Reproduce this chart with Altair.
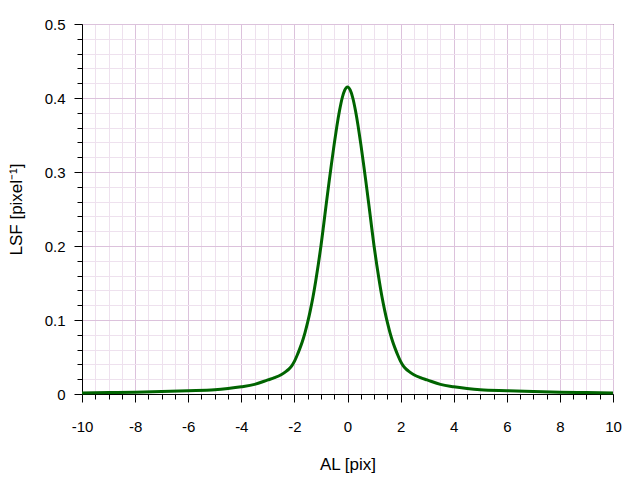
import altair as alt
import pandas as pd

# Line spread function
al_pix = [-10, -9, -8, -7, -6, -5, -4.5, -4, -3.5, -3, -2.75, -2.5, -2.3, -2.2, -2.1,
          -2.0, -1.9, -1.8, -1.7, -1.6, -1.5, -1.4, -1.3, -1.2, -1.1, -1.0, -0.9, -0.8,
          -0.7, -0.6, -0.5, -0.4, -0.3, -0.2, -0.1, 0.0,
          0.1, 0.2, 0.3, 0.4, 0.5, 0.6, 0.7, 0.8, 0.9, 1.0, 1.1, 1.2, 1.3, 1.4, 1.5,
          1.6, 1.7, 1.8, 1.9, 2.0, 2.1, 2.2, 2.3, 2.5, 2.75, 3, 3.5, 4, 4.5, 5, 6, 7, 8, 9, 10]
lsf = [0.0015, 0.002, 0.0025, 0.0035, 0.0045, 0.0058, 0.0075, 0.0098, 0.013, 0.019, 0.022,
       0.026, 0.031, 0.034, 0.038, 0.044, 0.052, 0.061, 0.071, 0.083, 0.097, 0.113, 0.131,
       0.152, 0.175, 0.200, 0.228, 0.257, 0.285, 0.312, 0.338, 0.362, 0.383, 0.400, 0.411,
       0.415,
       0.411, 0.400, 0.383, 0.362, 0.338, 0.312, 0.285, 0.257, 0.228, 0.200, 0.175, 0.152,
       0.131, 0.113, 0.097, 0.083, 0.071, 0.061, 0.052, 0.044, 0.038, 0.034, 0.031, 0.026,
       0.022, 0.019, 0.013, 0.0098, 0.0075, 0.0058, 0.0045, 0.0035, 0.0025, 0.002, 0.0015]

x_ticks = [-10 + 0.5 * i for i in range(41)]
y_ticks = [round(0.02 * i, 2) for i in range(26)]

df = pd.DataFrame({"al": al_pix, "lsf": lsf})

FONT = "Liberation Sans"
MAJOR_GRID = "#dcc2dc"
MINOR_GRID = "#eee1ee"

x_major = "abs(datum.value) % 2 == 0"
y_major = "round(datum.value * 100) % 10 == 0"

chart = alt.Chart(df).mark_line(
    color="#006400", strokeWidth=3, interpolate="monotone"
).encode(
    x=alt.X(
        "al:Q",
        scale=alt.Scale(domain=[-10, 10], nice=False, zero=False),
        axis=alt.Axis(
            values=x_ticks,
            title="AL [pix]",
            labelExpr=f"{x_major} ? '' + datum.value : ''",
            labelOverlap=False,
            labelFlush=False,
            tickSize={"condition": {"test": x_major, "value": 8}, "value": 5},
            gridColor={"condition": {"test": x_major, "value": MAJOR_GRID}, "value": MINOR_GRID},
            labelPadding=17,
            titlePadding=22,
        ),
    ),
    y=alt.Y(
        "lsf:Q",
        scale=alt.Scale(domain=[0, 0.5], nice=False),
        axis=alt.Axis(
            values=y_ticks,
            title="LSF [pixel⁻¹]",
            labelExpr=f"{y_major} ? format(datum.value, '.1~f') : ''",
            labelOverlap=False,
            labelFlush=False,
            tickSize={"condition": {"test": y_major, "value": 8}, "value": 5},
            gridColor={"condition": {"test": y_major, "value": MAJOR_GRID}, "value": MINOR_GRID},
            labelPadding=9,
            titlePadding=19,
        ),
    ),
).properties(
    width=531,
    height=370,
    autosize=alt.AutoSizeParams(type="none"),
    padding={"left": 74, "top": 16, "right": 19, "bottom": 86},
).configure_view(
    stroke="black", strokeWidth=1
).configure_axis(
    domainColor="black",
    tickColor="black",
    gridWidth=1,
    labelFont=FONT,
    labelFontSize=15,
    labelColor="black",
    titleFont=FONT,
    titleFontSize=17,
    titleFontWeight="normal",
    titleColor="black",
)

chart.save("out.html", embed_options={"renderer": "svg", "actions": False})
